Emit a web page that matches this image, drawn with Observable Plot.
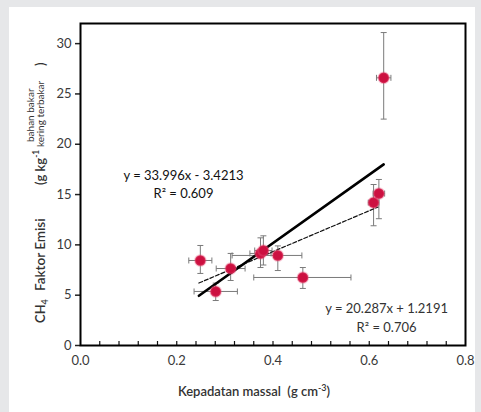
<!DOCTYPE html>
<html><head><meta charset="utf-8">
<script src="https://cdn.jsdelivr.net/npm/d3@7"></script>
<script src="https://cdn.jsdelivr.net/npm/@observablehq/plot@0.6"></script>
<style>
html,body{margin:0;padding:0;background:#e6e7e9;}
#chart{position:relative;width:481px;height:412px;overflow:hidden;}
#panel{position:absolute;left:9px;top:7px;width:466px;height:405px;background:#fff;}
#chart svg{position:absolute;left:0;top:0;}
</style></head><body><div id="chart"><div id="panel"></div></div>
<script>
// ---- data ----
const density      = [0.249, 0.281, 0.312, 0.374, 0.380, 0.410, 0.462, 0.609, 0.620, 0.630];
const emission     = [8.45, 5.37, 7.65, 9.15, 9.44, 8.95, 6.76, 14.2, 15.1, 26.6];
const densityLow   = [0.225, 0.236, 0.282, 0.352, 0.362, 0.315, 0.360, 0.598, 0.608, 0.615];
const densityHigh  = [0.273, 0.326, 0.342, 0.396, 0.398, 0.460, 0.562, 0.620, 0.632, 0.645];
const emissionLow  = [7.16, 4.47, 6.46, 7.75, 8.0, 7.45, 5.67, 11.9, 12.6, 22.5];
const emissionHigh = [9.94, 6.2, 9.15, 10.7, 10.9, 9.9, 7.75, 16.0, 16.5, 31.1];

// trend lines
const fitSlope     = [33.996, 20.287];
const fitIntercept = [-3.4213, 1.2191];
const fitXStart    = [0.246, 0.246];
const fitXEnd      = [0.630, 0.618];
const fitLabel     = ["y = 33.996x - 3.4213", "y = 20.287x + 1.2191"];
const fitR2        = ["R² = 0.609", "R² = 0.706"];
const labelX       = [0.214, 0.636];
const labelY       = [16.9, 3.65];
const r2Y          = [15.1, 1.75];

const yTicks = [0, 5, 10, 15, 20, 25, 30];
const xTicks = [0.0, 0.2, 0.4, 0.6, 0.8];
const xMinorTicks = [0.04,0.08,0.12,0.16,0.20,0.24,0.28,0.32,0.36,0.40,0.44,0.48,0.52,0.56,0.60,0.64,0.68,0.72,0.76];

// ---- build tables ----
const points = density.map((x, i) => ({x, y: emission[i], xl: densityLow[i], xh: densityHigh[i], yl: emissionLow[i], yh: emissionHigh[i]}));
const fitLines = fitSlope.flatMap((m, i) => [
  {fit: i, x: fitXStart[i], y: m * fitXStart[i] + fitIntercept[i]},
  {fit: i, x: fitXEnd[i], y: m * fitXEnd[i] + fitIntercept[i]}
]);
const notes = fitLabel.map((t, i) => ({t, r2: fitR2[i], x: labelX[i], y: labelY[i], y2: r2Y[i], bold: i === 0}));

const hcap = {draw(ctx, size){ const r = Math.sqrt(size / Math.PI); ctx.moveTo(-r, 0); ctx.lineTo(r, 0); }};
const vcap = {draw(ctx, size){ const r = Math.sqrt(size / Math.PI); ctx.moveTo(0, -r); ctx.lineTo(0, r); }};

const W = 481, H = 412, mT = 23, mB = 67, mL = 80, mR = 16;
const errColor = "#7a7a7a";
const dotColor = "#cc1040";

const chart = Plot.plot({
  width: W, height: H,
  marginTop: mT, marginBottom: mB, marginLeft: mL, marginRight: mR,
  style: {background: "transparent", fontFamily: "Lato, sans-serif", fontSize: "13px", color: "#3a3a3a"},
  x: {domain: [0, 0.8]},
  y: {domain: [0, 32]},
  marks: [
    Plot.axisY({ticks: yTicks, tickSize: 5, tickPadding: 4, label: null, stroke: "#222", strokeWidth: 1.5}),
    Plot.axisX({ticks: xTicks, tickSize: 0, tickPadding: 10, tickFormat: d3.format(".1f"), label: null}),
    Plot.tickX(xMinorTicks, {x: d => d, insetTop: H - mT - mB - 4, stroke: "#111", strokeWidth: 1.2}),
    // error bars
    Plot.link(points, {x1: "xl", x2: "xh", y1: "y", y2: "y", stroke: errColor, strokeWidth: 1}),
    Plot.link(points, {x1: "x", x2: "x", y1: "yl", y2: "yh", stroke: errColor, strokeWidth: 1}),
    Plot.dot(points, {x: "x", y: "yl", symbol: hcap, r: 3, stroke: errColor, strokeWidth: 1}),
    Plot.dot(points, {x: "x", y: "yh", symbol: hcap, r: 3, stroke: errColor, strokeWidth: 1}),
    Plot.dot(points, {x: "xl", y: "y", symbol: vcap, r: 3, stroke: errColor, strokeWidth: 1}),
    Plot.dot(points, {x: "xh", y: "y", symbol: vcap, r: 3, stroke: errColor, strokeWidth: 1}),
    // trend lines
    Plot.line(fitLines.filter(d => d.fit === 1), {x: "x", y: "y", stroke: "#111", strokeWidth: 1.2, strokeDasharray: "4,2"}),
    Plot.line(fitLines.filter(d => d.fit === 0), {x: "x", y: "y", stroke: "#000", strokeWidth: 2.6}),
    // points
    Plot.dot(points, {x: "x", y: "y", r: 5.3, fill: dotColor, stroke: "#e8557a", strokeOpacity: 0.35, strokeWidth: 2}),
    // equations
    Plot.text(notes, {x: "x", y: "y", text: "t", fontWeight: d => d.bold ? "bold" : "normal", fill: d => d.bold ? "#111" : "#333", fontSize: 13}),
    Plot.text(notes, {x: "x", y: "y2", text: "r2", fontWeight: d => d.bold ? "bold" : "normal", fill: d => d.bold ? "#111" : "#333", fontSize: 13}),
    Plot.frame({stroke: "#000", strokeWidth: 2})
  ]
});
document.getElementById("chart").appendChild(chart);

// axis titles
const svg = d3.select(chart);
const xt = svg.append("text").attr("x", 254).attr("y", 396).attr("text-anchor", "middle")
  .attr("font-family", "Lato, sans-serif").attr("font-size", 13).attr("font-weight", 600).attr("fill", "#333");
xt.append("tspan").text("Kepadatan massal  (g cm");
xt.append("tspan").attr("font-size", 9).attr("dy", -5).text("-3");
xt.append("tspan").attr("dy", 5).text(")");

const g = svg.append("g").attr("transform", "rotate(-90)").attr("text-anchor", "start")
  .attr("font-family", "Lato, sans-serif").attr("fill", "#333").attr("font-weight", 600);
// rotated frame: (u,v) -> screen (v, -u)
const t1 = g.append("text").attr("x", -323).attr("y", 45).attr("font-size", 13);
t1.append("tspan").text("CH");
t1.append("tspan").attr("font-size", 9).attr("dy", 3).text("4");
g.append("text").attr("x", -291).attr("y", 45).attr("font-size", 13.5).text("Faktor Emisi");
const t3 = g.append("text").attr("x", -185).attr("y", 45).attr("font-size", 13);
t3.append("tspan").text("(g kg");
t3.append("tspan").attr("font-size", 8.5).attr("dy", -6).text("-1");
g.append("text").attr("x", -142).attr("y", 34).attr("font-size", 10).attr("font-weight", 400).text("bahan bakar");
g.append("text").attr("x", -147).attr("y", 44).attr("font-size", 10).attr("font-weight", 400).text("kering terbakar");
g.append("text").attr("x", -66).attr("y", 45).attr("font-size", 13).text(")");
</script>
</body></html>
